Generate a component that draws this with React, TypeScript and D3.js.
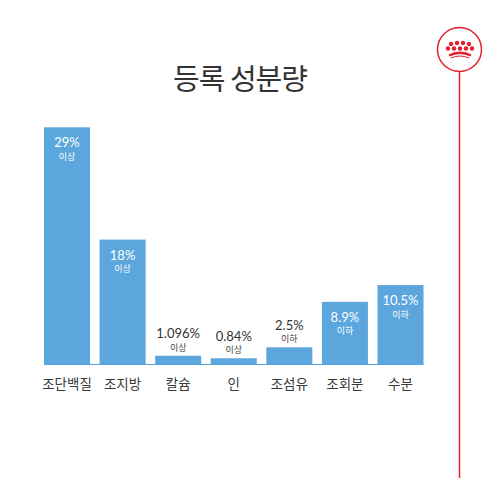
import React from "react";
import * as d3 from "d3";

const title = "등록 성분량";
const categories = ["조단백질", "조지방", "칼슘", "인", "조섬유", "조회분", "수분"];
// bar lengths as drawn in the picture (percent units)
const barValues = [29, 15.3, 1.13, 0.82, 2.16, 7.7, 9.75];
const valueLabels = ["29%", "18%", "1.096%", "0.84%", "2.5%", "8.9%", "10.5%"];
const qualifiers = ["이상", "이상", "이상", "이상", "이하", "이하", "이하"];
const insideBar = [true, true, false, false, false, true, true];

const BLUE = "#5ba6dd";
const RED = "#e2202c";
const FONT = "'Noto Sans CJK KR', 'Noto Sans', sans-serif";
const NUM_FONT = "Lato, 'Noto Sans', sans-serif";

export default function App() {
  const x = d3
    .scaleBand<string>()
    .domain(categories)
    .range([44, 423.5])
    .paddingInner(0.172)
    .paddingOuter(0);
  const y = d3.scaleLinear().domain([0, 29]).range([365, 127.3]);

  const row1 = [451, 457, 463, 469];
  const row2 = [448, 454, 460, 466, 472];

  return (
    <svg
      width={500}
      height={500}
      style={{ position: "absolute", left: 0, top: 0, background: "#fff" }}
      fontFamily={FONT}
    >
      <rect x={0} y={0} width={500} height={500} fill="#fff" />
      <text
        x={240}
        y={90}
        textAnchor="middle"
        fontSize={29}
        fill="#333"
        letterSpacing={-1}
      >
        {title}
      </text>

      {/* logo */}
      <circle cx={459.5} cy={49.5} r={22} fill="#fff" stroke={RED} strokeWidth={1.5} />
      <line x1={459.5} x2={459.5} y1={71.5} y2={478} stroke={RED} strokeWidth={1.5} />
      {row1.map((cx, i) => (
        <circle key={"a" + i} cx={cx} cy={i === 0 || i === 3 ? 44 : 43} r={2.2} fill={RED} />
      ))}
      {row2.map((cx, i) => (
        <circle key={"b" + i} cx={cx} cy={48.5} r={2.2} fill={RED} />
      ))}
      <path d="M449,55.5 Q460,50 471,55.5" fill="none" stroke={RED} strokeWidth={2.4} />
      <path d="M451,58 Q460,54 469,58" fill="none" stroke={RED} strokeWidth={1} />

      {/* baseline */}
      <line x1={44} x2={423.5} y1={364.5} y2={364.5} stroke={BLUE} strokeWidth={1} />

      {categories.map((c, i) => {
        const bx = x(c) as number;
        const bw = x.bandwidth();
        const top = y(barValues[i]);
        const cx = bx + bw / 2;
        const inside = insideBar[i];
        return (
          <g key={c}>
            <rect x={bx} y={top} width={bw} height={y(0) - top} fill={BLUE} />
            <text
              x={cx}
              y={inside ? top + 20 : top - 17.5}
              textAnchor="middle"
              fontSize={13}
              fontFamily={NUM_FONT}
              fill={inside ? "#fff" : "#333"}
            >
              {valueLabels[i]}
            </text>
            <text
              x={cx}
              y={inside ? top + 32.5 : top - 5}
              textAnchor="middle"
              fontSize={9}
              fill={inside ? "#fff" : "#444"}
            >
              {qualifiers[i]}
            </text>
            <text x={cx} y={388.5} textAnchor="middle" fontSize={13.5} fill="#3a3a3a">
              {c}
            </text>
          </g>
        );
      })}
    </svg>
  );
}
